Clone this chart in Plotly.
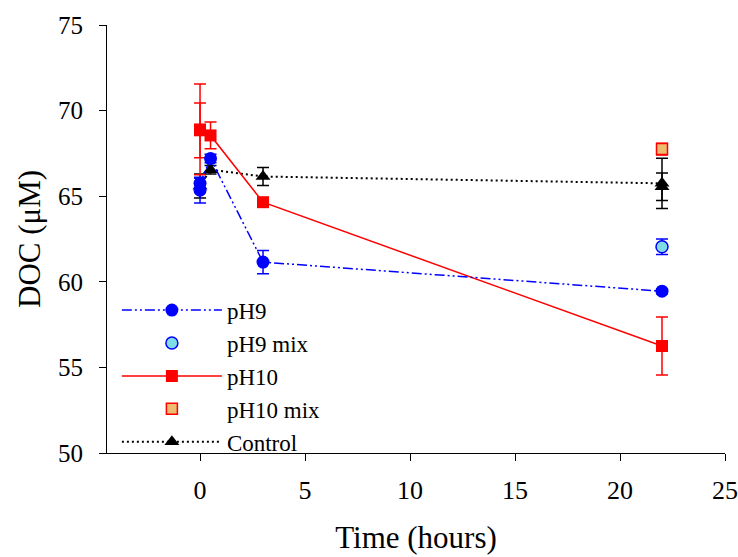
import plotly.graph_objects as go

# ---- data ----
ph9_t = [0, 0, 0.5, 3, 22]
ph9_v = [65.35, 65.75, 67.2, 61.15, 59.45]
ph9_e = [0.75, 0.3, 0.25, 0.68, 0.15]

ph9mix_t = [22]
ph9mix_v = [62.05]
ph9mix_e = [0.45]

ph10_t = [0, 0, 0.5, 3, 22]
ph10_v = [68.9, 68.85, 68.55, 64.65, 56.25]
ph10_e = [2.65, 1.6, 0.78, 0.15, 1.7]

ph10mix_t = [22]
ph10mix_v = [67.75]
ph10mix_e = [0.35]

ctrl_t = [0, 0.5, 3, 22, 22]
ctrl_v = [65.6, 66.55, 66.15, 65.75, 65.55]
ctrl_e = [0.7, 0.25, 0.53, 1.47, 0.8]

x_ticks = [0, 5, 10, 15, 20, 25]
y_ticks = [50, 55, 60, 65, 70, 75]

FONT = "Liberation Serif, Times New Roman, serif"

def err(vals, color):
    return dict(type="data", array=vals, visible=True, color=color,
                thickness=1.5, width=6)

fig = go.Figure()

# drawn back-to-front; legend order set with legendrank
fig.add_trace(go.Scatter(
    x=ctrl_t, y=ctrl_v, name="Control", mode="lines+markers", legendrank=5,
    line=dict(color="black", width=2, dash="2px,3px"),
    marker=dict(symbol="triangle-up", size=13, color="black"),
    error_y=err(ctrl_e, "black")))

fig.add_trace(go.Scatter(
    x=ph10mix_t, y=ph10mix_v, name="pH10 mix", mode="markers", legendrank=4,
    marker=dict(symbol="square", size=11, color="#EDBC6E",
                line=dict(color="#FF0000", width=1.5)),
    error_y=err(ph10mix_e, "#FF0000")))

fig.add_trace(go.Scatter(
    x=ph10_t, y=ph10_v, name="pH10", mode="lines+markers", legendrank=3,
    line=dict(color="#FF0000", width=1.5),
    marker=dict(symbol="square", size=12, color="#FF0000"),
    error_y=err(ph10_e, "#FF0000")))

fig.add_trace(go.Scatter(
    x=ph9mix_t, y=ph9mix_v, name="pH9 mix", mode="markers", legendrank=2,
    marker=dict(symbol="circle", size=12, color="#80DDE3",
                line=dict(color="#0000FF", width=1.5)),
    error_y=err(ph9mix_e, "#0000FF")))

fig.add_trace(go.Scatter(
    x=ph9_t, y=ph9_v, name="pH9", mode="lines+markers", legendrank=1,
    line=dict(color="#0000FF", width=1.5, dash="10px,3px,2px,3px,2px,3px"),
    marker=dict(symbol="circle", size=13, color="#0000FF"),
    error_y=err(ph9_e, "#0000FF")))

fig.update_layout(
    width=738, height=557,
    margin=dict(l=107, r=13, t=25, b=104),
    paper_bgcolor="white", plot_bgcolor="white",
    font=dict(family=FONT, size=23, color="black"),
    showlegend=True,
    legend=dict(x=0.016, y=0.384, xanchor="left", yanchor="top",
                bgcolor="rgba(0,0,0,0)", borderwidth=0,
                font=dict(family=FONT, size=23),
                itemwidth=100, tracegroupgap=0, traceorder="normal"),
    xaxis=dict(range=[-4.43, 25], tickvals=x_ticks, ticks="outside",
               ticklen=7, tickwidth=1, tickcolor="black",
               showline=True, linecolor="black", linewidth=1,
               showgrid=False, zeroline=False, mirror=False,
               automargin=False, ticklabelstandoff=7,
               tickfont=dict(family=FONT, size=26),
               title=dict(text="Time (hours)", standoff=22,
                          font=dict(family=FONT, size=31))),
    yaxis=dict(range=[50, 75], tickvals=y_ticks, ticks="outside",
               ticklen=7, tickwidth=1, tickcolor="black",
               showline=True, linecolor="black", linewidth=1,
               showgrid=False, zeroline=False, mirror=False,
               automargin=False, ticklabelstandoff=11,
               tickfont=dict(family=FONT, size=25),
               title=dict(text="DOC (μM)", standoff=8,
                          font=dict(family=FONT, size=31))),
)

# remove the default page margin so the figure sits at the window's corner
fig.write_html("out.html",
               config={"displayModeBar": False},
               post_script="document.body.style.margin='0';")
